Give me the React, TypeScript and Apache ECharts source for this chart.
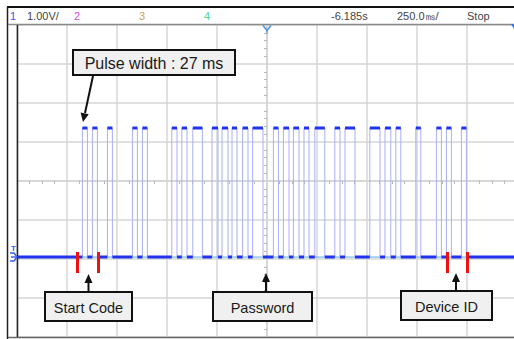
import React, { useEffect, useRef } from 'react';
import * as echarts from 'echarts';

// Timebase: 250 ms/div, 10 divisions -> 0..2500 ms across the screen
const TIME_MIN = 0;
const TIME_MAX = 2500;
// Vertical: 1.00 V/div, 8 divisions, ground reference at 0 V
const VOLT_MIN = -2.05;
const VOLT_MAX = 5.95;
const HIGH_V = 3.31;
const LOW_V = 0;

// Pulse rising / falling edges in ms
const PULSE_START = [327, 377, 452, 577, 627, 774, 824, 879, 975, 1025, 1075, 1128, 1178, 1282, 1332, 1382, 1435, 1489, 1589, 1640, 1764, 1840, 1894, 1994, 2097, 2147, 2222];
const PULSE_END = [352, 402, 477, 602, 652, 800, 850, 927, 1005, 1055, 1100, 1155, 1230, 1307, 1360, 1410, 1460, 1539, 1615, 1690, 1815, 1869, 1919, 2019, 2122, 2172, 2247];

// Red frame markers (ms) and their vertical extent (V)
const MARKER_TIMES = [300, 405, 2150, 2250];
const MARKER_TOP = 0.13;
const MARKER_BOTTOM = -0.41;

// Header texts
const HEADER_CH = ['1', '2', '3', '4'];
const HEADER_SCALE = '1.00V/';
const HEADER_POS = '-6.185s';
const HEADER_TIMEBASE = '250.0㎳/';
const HEADER_STATE = 'Stop';

// Annotation labels
const LABEL_PULSE = 'Pulse width : 27 ms';
const LABEL_START = 'Start Code';
const LABEL_PASSWORD = 'Password';
const LABEL_DEVICE = 'Device ID';

export default function App() {
  const ref = useRef<HTMLDivElement>(null);

  useEffect(() => {
    const chart = echarts.init(ref.current!, null, { renderer: 'svg', width: 514, height: 339 });

    // thin trace (edges) as a step line
    const trace: (number | null)[][] = [[TIME_MIN, LOW_V]];
    PULSE_START.forEach((s, i) => {
      const e = PULSE_END[i];
      trace.push([s, LOW_V], [s, HIGH_V], [e, HIGH_V], [e, LOW_V]);
    });
    trace.push([TIME_MAX, LOW_V]);

    // thick horizontal levels, broken between segments
    const levels: (number | null)[][] = [];
    let prev = TIME_MIN;
    PULSE_START.forEach((s, i) => {
      const e = PULSE_END[i];
      levels.push([prev, LOW_V], [s, LOW_V], [s, null]);
      levels.push([s, HIGH_V], [e, HIGH_V], [e, null]);
      prev = e;
    });
    levels.push([prev, LOW_V], [TIME_MAX, LOW_V]);

    const markerLines = MARKER_TIMES.map((t) => [
      { coord: [t, MARKER_TOP] },
      { coord: [t, MARKER_BOTTOM] },
    ]);

    const headerFont = '11px "Liberation Sans", Arial, sans-serif';
    const hText = (text: string, x: number, color: string, align = 'left') => ({
      type: 'text',
      x,
      y: 16,
      z: 100,
      style: {
        text,
        fill: color,
        font: headerFont,
        align,
        textAlign: align,
        verticalAlign: 'middle',
        textVerticalAlign: 'middle',
      },
    });

    const box = (x: number, y: number, w: number, h: number, text: string, size: number) => [
      {
        type: 'rect',
        z: 100,
        shape: { x, y, width: w, height: h },
        style: { fill: '#f0f0f0', stroke: '#111', lineWidth: 2 },
      },
      {
        type: 'text',
        z: 101,
        x: x + w / 2,
        y: y + h / 2 + 1,
        style: {
          text,
          fill: '#1a1a1a',
          font: `${size}px "Liberation Sans", Arial, sans-serif`,
          align: 'center',
          textAlign: 'center',
          verticalAlign: 'middle',
          textVerticalAlign: 'middle',
        },
      },
    ];

    const upArrow = (x: number, tipY: number, baseY: number) => [
      {
        type: 'line',
        z: 100,
        shape: { x1: x, y1: tipY + 7, x2: x, y2: baseY },
        style: { stroke: '#111', lineWidth: 2 },
      },
      {
        type: 'polygon',
        z: 100,
        shape: { points: [[x, tipY], [x - 4, tipY + 9], [x + 4, tipY + 9]] },
        style: { fill: '#111' },
      },
    ];

    const option: any = {
      animation: false,
      backgroundColor: '#ffffff',
      grid: { left: 17, top: 25, width: 500, height: 312, containLabel: false, outerBoundsMode: 'none' },
      xAxis: [
        {
          type: 'value',
          min: -5,
          max: 5,
          interval: 1,
          axisLabel: { show: false },
          axisTick: { show: false },
          axisLine: { show: true, onZero: true, onZeroAxisIndex: 0, lineStyle: { color: '#d4d4d4', width: 1.5 } },
          minorTick: { show: true, splitNumber: 4, length: 3, lineStyle: { color: '#b8b8b8', width: 1 } },
          splitLine: { show: true, lineStyle: { color: '#d6d6d6', width: 1.5 } },
        },
        { type: 'value', show: false, min: TIME_MIN, max: TIME_MAX },
      ],
      yAxis: [
        {
          type: 'value',
          min: -4,
          max: 4,
          interval: 1,
          axisLabel: { show: false },
          axisTick: { show: false },
          axisLine: { show: true, onZero: true, onZeroAxisIndex: 0, lineStyle: { color: '#d4d4d4', width: 1.5 } },
          minorTick: { show: true, splitNumber: 5, length: 3, lineStyle: { color: '#b8b8b8', width: 1 } },
          splitLine: { show: true, lineStyle: { color: '#d6d6d6', width: 1.5 } },
        },
        { type: 'value', show: false, min: VOLT_MIN, max: VOLT_MAX },
      ],
      series: [
        {
          type: 'line',
          xAxisIndex: 1,
          yAxisIndex: 1,
          data: [[TIME_MIN, LOW_V], [TIME_MAX, LOW_V]],
          symbol: 'none',
          silent: true,
          z: 2,
          lineStyle: { color: '#5aaaf0', width: 1 },
        },
        {
          type: 'line',
          xAxisIndex: 1,
          yAxisIndex: 1,
          data: trace,
          symbol: 'none',
          silent: true,
          z: 3,
          lineStyle: { color: '#a9aff6', width: 1 },
        },
        {
          type: 'line',
          xAxisIndex: 1,
          yAxisIndex: 1,
          data: levels,
          symbol: 'none',
          connectNulls: false,
          silent: true,
          z: 4,
          lineStyle: { color: '#2233ee', width: 3 },
        },
        {
          type: 'line',
          xAxisIndex: 1,
          yAxisIndex: 1,
          data: [],
          symbol: 'none',
          silent: true,
          z: 5,
          markLine: {
            silent: true,
            symbol: 'none',
            animation: false,
            label: { show: false },
            lineStyle: { color: '#ee1111', width: 3, type: 'solid' },
            data: markerLines,
          },
        },
      ],
      graphic: [
        // frame
        { type: 'rect', z: 90, shape: { x: 7, y: 6, width: 507, height: 2 }, style: { fill: '#111' } },
        { type: 'line', z: 90, shape: { x1: 7.5, y1: 7, x2: 7.5, y2: 339 }, style: { stroke: '#222', lineWidth: 1.5 } },
        { type: 'line', z: 90, shape: { x1: 8, y1: 24.5, x2: 514, y2: 24.5 }, style: { stroke: '#8a8a8a', lineWidth: 1.5 } },
        { type: 'line', z: 90, shape: { x1: 17.5, y1: 25, x2: 17.5, y2: 337 }, style: { stroke: '#222', lineWidth: 1.5 } },
        { type: 'line', z: 90, shape: { x1: 8, y1: 337.5, x2: 514, y2: 337.5 }, style: { stroke: '#666', lineWidth: 1.5 } },
        // header
        hText(HEADER_CH[0], 10, '#3d55f0'),
        hText(HEADER_SCALE, 27, '#444'),
        hText(HEADER_CH[1], 74, '#d050e0'),
        hText(HEADER_CH[2], 139, '#c8a060'),
        hText(HEADER_CH[3], 204, '#4ed88c'),
        hText(HEADER_POS, 331, '#444'),
        hText(HEADER_TIMEBASE, 397, '#444'),
        hText(HEADER_STATE, 467, '#444'),
        // trigger position marker
        { type: 'polyline', z: 95, shape: { points: [[263, 25.5], [267, 30.5], [271, 25.5]] }, style: { stroke: '#4a90e8', lineWidth: 1.5, fill: 'none' } },
        { type: 'line', z: 95, shape: { x1: 267, y1: 30, x2: 267, y2: 34 }, style: { stroke: '#4a90e8', lineWidth: 1 } },
        { type: 'polygon', z: 95, shape: { points: [[511, 24], [514, 24], [514, 29]] }, style: { fill: '#3a70f0' } },
        // ground marker
        {
          type: 'text', z: 95, x: 13.5, y: 248,
          style: { text: 'T', fill: '#3a60f0', font: 'bold 8px "Liberation Sans", Arial, sans-serif', align: 'center', textAlign: 'center', verticalAlign: 'middle', textVerticalAlign: 'middle' },
        },
        { type: 'polyline', z: 95, shape: { points: [[10, 253], [14, 253], [17, 257], [14, 261], [10, 261]] }, style: { stroke: '#3a60f0', lineWidth: 1.5, fill: 'none' } },
        { type: 'line', z: 95, shape: { x1: 11, y1: 257, x2: 17, y2: 257 }, style: { stroke: '#3a60f0', lineWidth: 1.5 } },
        // annotations
        ...box(73, 50, 162, 25, LABEL_PULSE, 16),
        { type: 'line', z: 100, shape: { x1: 93, y1: 76, x2: 85, y2: 113 }, style: { stroke: '#111', lineWidth: 2 } },
        { type: 'polygon', z: 100, shape: { points: [[83, 122], [88.7, 114.2], [80.6, 112.4]] }, style: { fill: '#111' } },
        ...box(45, 292, 87, 29, LABEL_START, 14.5),
        ...upArrow(88.5, 274, 292),
        ...box(213, 292, 99, 29, LABEL_PASSWORD, 14.5),
        ...upArrow(266, 273, 292),
        ...box(401, 291, 91, 29, LABEL_DEVICE, 14.5),
        ...upArrow(456, 273, 291),
      ],
    };

    chart.setOption(option);
    return () => chart.dispose();
  }, []);

  return (
    <div
      ref={ref}
      style={{ position: 'absolute', left: 0, top: 0, width: 514, height: 339, background: '#fff' }}
    />
  );
}
